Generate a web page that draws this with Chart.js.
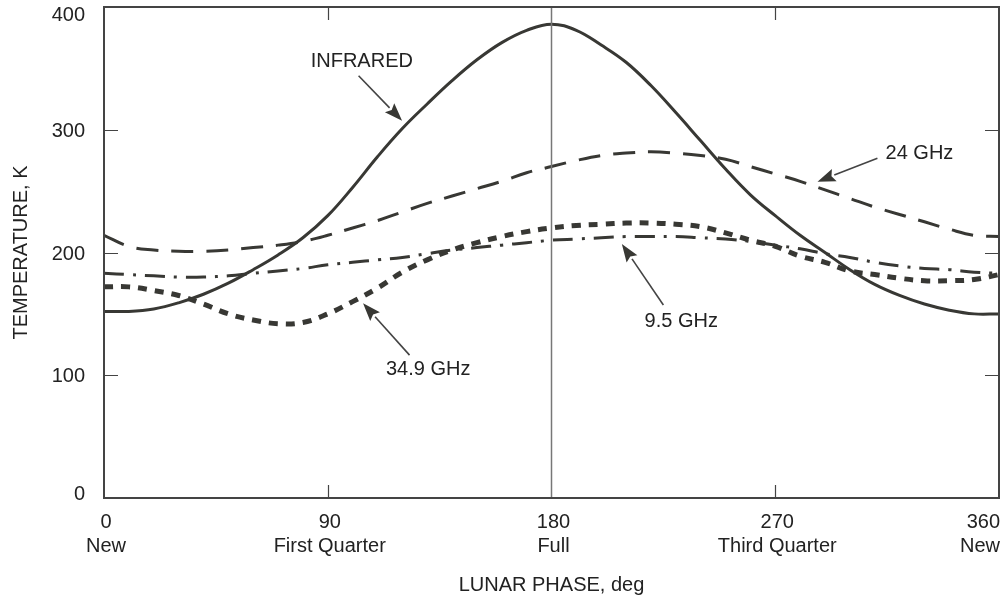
<!DOCTYPE html>
<html>
<head>
<meta charset="utf-8">
<script src="https://cdn.jsdelivr.net/npm/chart.js@4.4.0/dist/chart.umd.min.js"></script>
<style>
  html, body { margin: 0; padding: 0; background: #fff; }
</style>
</head>
<body>
<canvas id="lunar-graph" width="1007" height="602"></canvas>
<script>
// lunar phase, deg
const phase = [0, 10, 20, 30, 40, 50, 60, 70, 80, 90, 100, 110, 120, 130, 140, 150, 160, 170, 180,
  190, 200, 210, 220, 230, 240, 250, 260, 270, 280, 290, 300, 310, 320, 330, 340, 350, 360];
const phaseNames = { 0: 'New', 90: 'First Quarter', 180: 'Full', 270: 'Third Quarter', 360: 'New' };

// temperature, K
const infrared = [152, 152, 154, 159, 166, 175, 186, 198, 212, 230, 253, 278, 301, 321, 340, 357, 371, 381, 386,
  381, 369, 355, 336, 314, 291, 268, 247, 230, 214, 200, 186, 174, 165, 158, 153, 150, 150];
const ghz24 = [214, 205, 202, 201, 201, 202, 204, 206, 209, 214, 220, 226, 233, 240, 246, 252, 258, 265, 270,
  275, 279, 281, 282, 281, 279, 276, 270, 264, 258, 251, 244, 237, 231, 225, 219, 214, 213];
const ghz95 = [183, 182, 181, 180, 180, 181, 183, 185, 187, 190, 192, 194, 196, 199, 202, 204, 206, 208, 210,
  211, 212, 213, 213, 213, 212, 211, 209, 206, 203, 199, 196, 192, 189, 187, 186, 184, 183];
const ghz349 = [172, 172, 169, 165, 158, 150, 145, 142, 143, 150, 160, 171, 184, 194, 202, 208, 213, 217, 220,
  222, 223, 224, 224, 223, 221, 216, 210, 205, 197, 192, 185, 182, 179, 177, 177, 178, 182];

// full moon marker
const fullPhase = 180;
const fullRange = [0, 400];

// callouts: text, text centre, arrow tail, arrow tip (data units)
const calloutText = ['INFRARED', '34.9 GHz', '9.5 GHz', '24 GHz'];
const calloutAt = [[103.7, 356], [130.4, 104.6], [232.2, 144], [328, 280.3]];
const arrowFrom = [[102.4, 344], [122.9, 116.4], [225, 157.2], [311.1, 276.8]];
const arrowTo = [[119.9, 307.3], [104.2, 158.6], [208.3, 206.9], [287, 257.7]];

const ink = '#383834';
const FONT = "'Liberation Sans', Arial, sans-serif";
Chart.defaults.font.family = FONT;
Chart.defaults.font.size = 20;
Chart.defaults.color = '#222';

function points(values) {
  return values.map((v, i) => ({ x: phase[i], y: v }));
}

const framePlugin = {
  id: 'frame',
  afterDraw(chart) {
    const ctx = chart.ctx;
    const a = chart.chartArea;
    const xs = chart.scales.x;
    const ys = chart.scales.y;
    ctx.save();

    // frame
    ctx.strokeStyle = '#444';
    ctx.lineWidth = 2;
    ctx.strokeRect(a.left, a.top, a.right - a.left, a.bottom - a.top);

    // inward ticks
    ctx.lineWidth = 1.2;
    ctx.beginPath();
    ys.ticks.forEach(t => {
      if (t.value <= ys.min || t.value >= ys.max) return;
      const py = Math.round(ys.getPixelForValue(t.value)) + 0.5;
      ctx.moveTo(a.left, py); ctx.lineTo(a.left + 14, py);
      ctx.moveTo(a.right, py); ctx.lineTo(a.right - 14, py);
    });
    xs.ticks.forEach(t => {
      if (t.value <= xs.min || t.value >= xs.max || t.value === fullPhase) return;
      const px = Math.round(xs.getPixelForValue(t.value)) + 0.5;
      ctx.moveTo(px, a.bottom); ctx.lineTo(px, a.bottom - 13);
      ctx.moveTo(px, a.top); ctx.lineTo(px, a.top + 13);
    });
    ctx.stroke();

    ctx.fillStyle = '#222';
    ctx.font = '20px ' + FONT;
    ctx.textBaseline = 'middle';

    // y tick labels, kept inside the canvas
    ctx.textAlign = 'right';
    ys.ticks.forEach(t => {
      const py = Math.min(Math.max(ys.getPixelForValue(t.value) + 1.5, 15), 494.5);
      ctx.fillText(String(t.value), a.left - 19, py);
    });

    // x tick labels (two lines)
    xs.ticks.forEach((t, i) => {
      const px = xs.getPixelForValue(t.value);
      const lines = [String(t.value), phaseNames[t.value]];
      if (i === xs.ticks.length - 1) {
        ctx.textAlign = 'right';
        lines.forEach((s, k) => ctx.fillText(s, px + 1, 522 + k * 24));
      } else {
        ctx.textAlign = 'center';
        lines.forEach((s, k) => ctx.fillText(s, px + 2, 522 + k * 24));
      }
    });

    // callouts
    calloutText.forEach((txt, i) => {
      ctx.textAlign = 'center';
      ctx.fillText(txt, xs.getPixelForValue(calloutAt[i][0]), ys.getPixelForValue(calloutAt[i][1]));
      const x0 = xs.getPixelForValue(arrowFrom[i][0]), y0 = ys.getPixelForValue(arrowFrom[i][1]);
      const x1 = xs.getPixelForValue(arrowTo[i][0]), y1 = ys.getPixelForValue(arrowTo[i][1]);
      const ang = Math.atan2(y1 - y0, x1 - x0);
      const hl = 18, hw = 6.5;
      const bx = x1 - hl * Math.cos(ang), by = y1 - hl * Math.sin(ang);
      ctx.strokeStyle = '#444';
      ctx.lineWidth = 1.6;
      ctx.beginPath();
      ctx.moveTo(x0, y0); ctx.lineTo(bx, by);
      ctx.stroke();
      ctx.fillStyle = ink;
      ctx.beginPath();
      ctx.moveTo(x1, y1);
      ctx.lineTo(bx + hw * Math.sin(ang), by - hw * Math.cos(ang));
      ctx.lineTo(bx + 3 * Math.cos(ang), by + 3 * Math.sin(ang));
      ctx.lineTo(bx - hw * Math.sin(ang), by + hw * Math.cos(ang));
      ctx.closePath();
      ctx.fill();
      ctx.fillStyle = '#222';
    });
    ctx.restore();
  }
};

const ctx = document.getElementById('lunar-graph');
const lunarChart = new Chart(ctx, {
  type: 'line',
  data: {
    datasets: [
      {
        label: 'Full',
        data: fullRange.map(v => ({ x: fullPhase, y: v })),
        borderColor: '#777',
        borderWidth: 1.5,
        pointRadius: 0
      },
      {
        label: 'INFRARED',
        data: points(infrared),
        borderColor: ink,
        borderWidth: 3,
        pointRadius: 0,
        tension: 0.4
      },
      {
        label: '24 GHz',
        data: points(ghz24),
        borderColor: ink,
        borderWidth: 3,
        borderDash: [22, 13],
        pointRadius: 0,
        tension: 0.4
      },
      {
        label: '9.5 GHz',
        data: points(ghz95),
        borderColor: ink,
        borderWidth: 3,
        borderDash: [20, 9, 3, 9],
        pointRadius: 0,
        tension: 0.4
      },
      {
        label: '34.9 GHz',
        data: points(ghz349),
        borderColor: ink,
        borderWidth: 5,
        borderDash: [9, 8],
        borderCapStyle: 'butt',
        pointRadius: 0,
        tension: 0.4
      }
    ]
  },
  options: {
    responsive: false,
    animation: false,
    devicePixelRatio: 1,
    layout: { padding: { left: 0, right: 8, top: 7, bottom: 0 } },
    plugins: { legend: { display: false }, tooltip: { enabled: false } },
    scales: {
      x: {
        type: 'linear',
        min: 0,
        max: 360,
        ticks: { stepSize: 90, display: false },
        grid: { display: false, drawTicks: false },
        border: { display: false },
        title: { display: true, text: 'LUNAR PHASE, deg', color: '#222', font: { size: 20 }, padding: { top: 0, bottom: 5 } },
        afterFit(scale) { scale.height = 104; scale.paddingTop = 0; scale.paddingBottom = 0; }
      },
      y: {
        min: 0,
        max: 400,
        ticks: { stepSize: 100, display: false },
        grid: { display: false, drawTicks: false },
        border: { display: false },
        title: { display: true, text: 'TEMPERATURE, K', color: '#222', font: { size: 20 }, padding: { top: 9, bottom: 0 } },
        afterFit(scale) { scale.width = 104; scale.paddingTop = 0; scale.paddingBottom = 0; }
      }
    }
  },
  plugins: [framePlugin]
});
</script>
</body>
</html>
